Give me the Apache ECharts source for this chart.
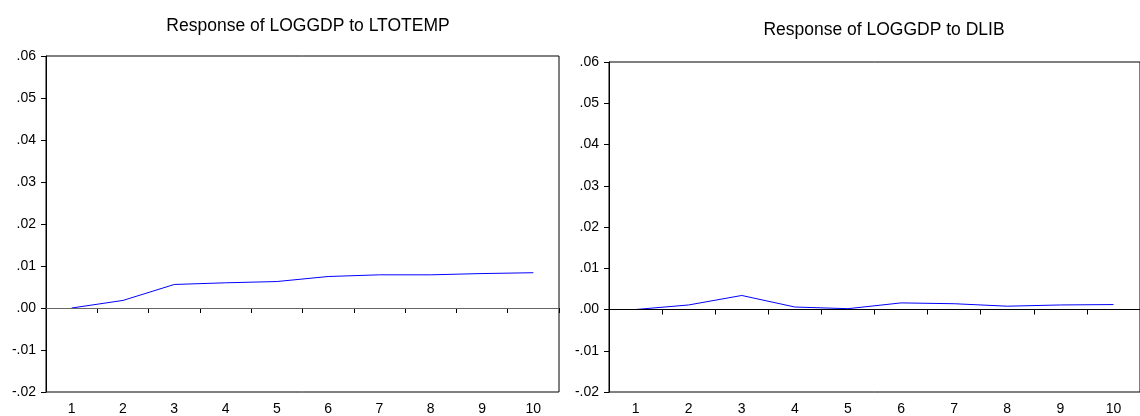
<!DOCTYPE html>
<html style="height: 100%">
<head>
    <meta charset="utf-8">
    <title>Response of LOGGDP</title>
    <style>
    body { margin: 0; background: #fff; }
    #container { width: 1140px; height: 416px; }
    </style>
</head>
<body>
    <div id="container"></div>
    <script type="text/javascript" src="https://cdn.jsdelivr.net/npm/echarts@6/dist/echarts.min.js"></script>
    <script type="text/javascript">
    // periods 1..10
    var periods = ['1', '2', '3', '4', '5', '6', '7', '8', '9', '10'];
    // impulse responses
    var respLtotemp = [0.0000, 0.0018, 0.0056, 0.0060, 0.0063, 0.0075, 0.0079, 0.0079, 0.0082, 0.0084];
    var respDlib = [0.0000, 0.0011, 0.0034, 0.0006, 0.0002, 0.0016, 0.0014, 0.0008, 0.0011, 0.0012];
    var titles = ['Response of LOGGDP to LTOTEMP', 'Response of LOGGDP to DLIB'];

    var font = 'Liberation Sans, Arial, sans-serif';

    // eviews style labels: .06 / -.01
    function fmt(v) {
        var s = Math.abs(v).toFixed(2).replace(/^0/, '');
        return (v < -1e-9 ? '-' : '') + s;
    }

    function xAx(i) {
        return {
            type: 'category', gridIndex: i, data: periods, boundaryGap: true,
            axisLine: { lineStyle: { color: '#000', width: 1 } },
            axisTick: { show: true, inside: false, length: 5, lineStyle: { color: '#000' } },
            axisLabel: { color: '#000', fontFamily: font, fontSize: 14, margin: 10 },
            splitLine: { show: false }
        };
    }
    function yAx(i) {
        return {
            type: 'value', gridIndex: i, min: -0.02, max: 0.06, interval: 0.01,
            axisLine: { show: true, lineStyle: { color: '#000', width: 1 } },
            axisTick: { show: true, inside: false, length: 5, lineStyle: { color: '#000' } },
            axisLabel: { color: '#000', fontFamily: font, fontSize: 14, margin: 10, formatter: fmt },
            splitLine: { show: false }
        };
    }
    function line(i, data, zeroColor) {
        return {
            type: 'line', xAxisIndex: i, yAxisIndex: i, data: data,
            symbol: 'none', animation: false,
            lineStyle: { color: '#0000ff', width: 1 },
            markLine: {
                silent: true, symbol: 'none', label: { show: false },
                lineStyle: { color: zeroColor, width: 1, type: 'solid' },
                data: [{ yAxis: 0 }]
            }
        };
    }

    var myChart = echarts.init(document.getElementById('container'));
    var option = {
        animation: false,
        title: [
            { text: titles[0], left: 303, top: 12, textAlign: 'center',
              textStyle: { fontFamily: font, fontSize: 17.5, fontWeight: 'normal', color: '#000' } },
            { text: titles[1], left: 879, top: 16, textAlign: 'center',
              textStyle: { fontFamily: font, fontSize: 17.5, fontWeight: 'normal', color: '#000' } }
        ],
        grid: [
            { left: 46, top: 56, width: 513, height: 336, show: true, borderColor: '#000', borderWidth: 1 },
            { left: 609, top: 62, width: 537, height: 330, show: true, borderColor: '#000', borderWidth: 1 }
        ],
        xAxis: [xAx(0), xAx(1)],
        yAxis: [yAx(0), yAx(1)],
        series: [line(0, respLtotemp, '#666'), line(1, respDlib, '#000')]
    };
    myChart.setOption(option);
    </script>
</body>
</html>
